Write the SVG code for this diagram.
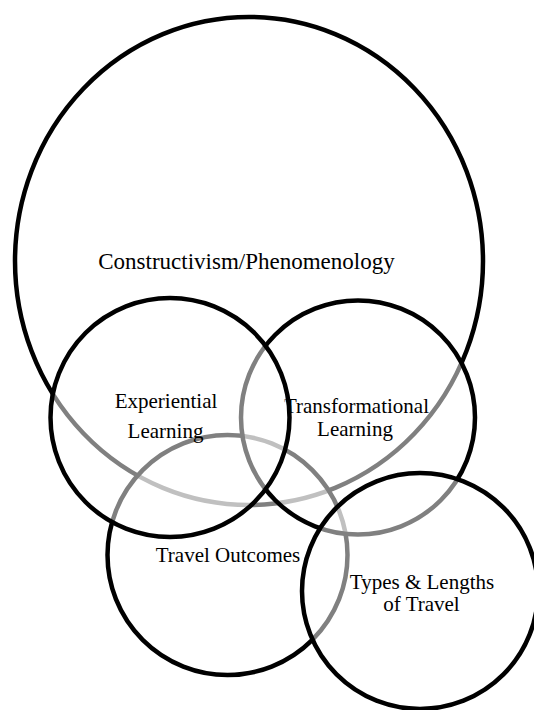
<svg xmlns="http://www.w3.org/2000/svg" width="534" height="710" viewBox="0 0 534 710">
  <style>
    .ring { fill: #ffffff; fill-opacity: 0.5; stroke: #000000; stroke-width: 4.5; }
    .lbl { font-family: "Liberation Serif", "Times New Roman", serif; font-size: 21px; fill: #000000; text-anchor: middle; }
    .big { font-size: 23px; }
  </style>
  <rect x="0" y="0" width="534" height="710" fill="#ffffff"/>
  <g id="connectors"></g>
  <g id="constructivism">
    <ellipse class="ring" cx="249" cy="261" rx="234" ry="244"/>
    <text class="lbl big" x="246.5" y="269">Constructivism/Phenomenology</text>
  </g>
  <g id="travel-outcomes">
    <circle class="ring" cx="227.5" cy="555" r="120"/>
    <text class="lbl" x="228" y="561.5">Travel Outcomes</text>
  </g>
  <g id="transformational">
    <circle class="ring" cx="358" cy="417.5" r="117"/>
    <text class="lbl" x="356.5" y="413">Transformational</text>
    <text class="lbl" x="355" y="436">Learning</text>
  </g>
  <g id="experiential">
    <circle class="ring" cx="170" cy="417.5" r="119.5"/>
    <text class="lbl" x="166" y="408">Experiential</text>
    <text class="lbl" x="165.5" y="437.5">Learning</text>
  </g>
  <g id="types-lengths">
    <circle class="ring" cx="420" cy="591" r="118"/>
    <text class="lbl" x="422" y="589">Types &amp; Lengths</text>
    <text class="lbl" x="421.5" y="610.5">of Travel</text>
  </g>
</svg>
